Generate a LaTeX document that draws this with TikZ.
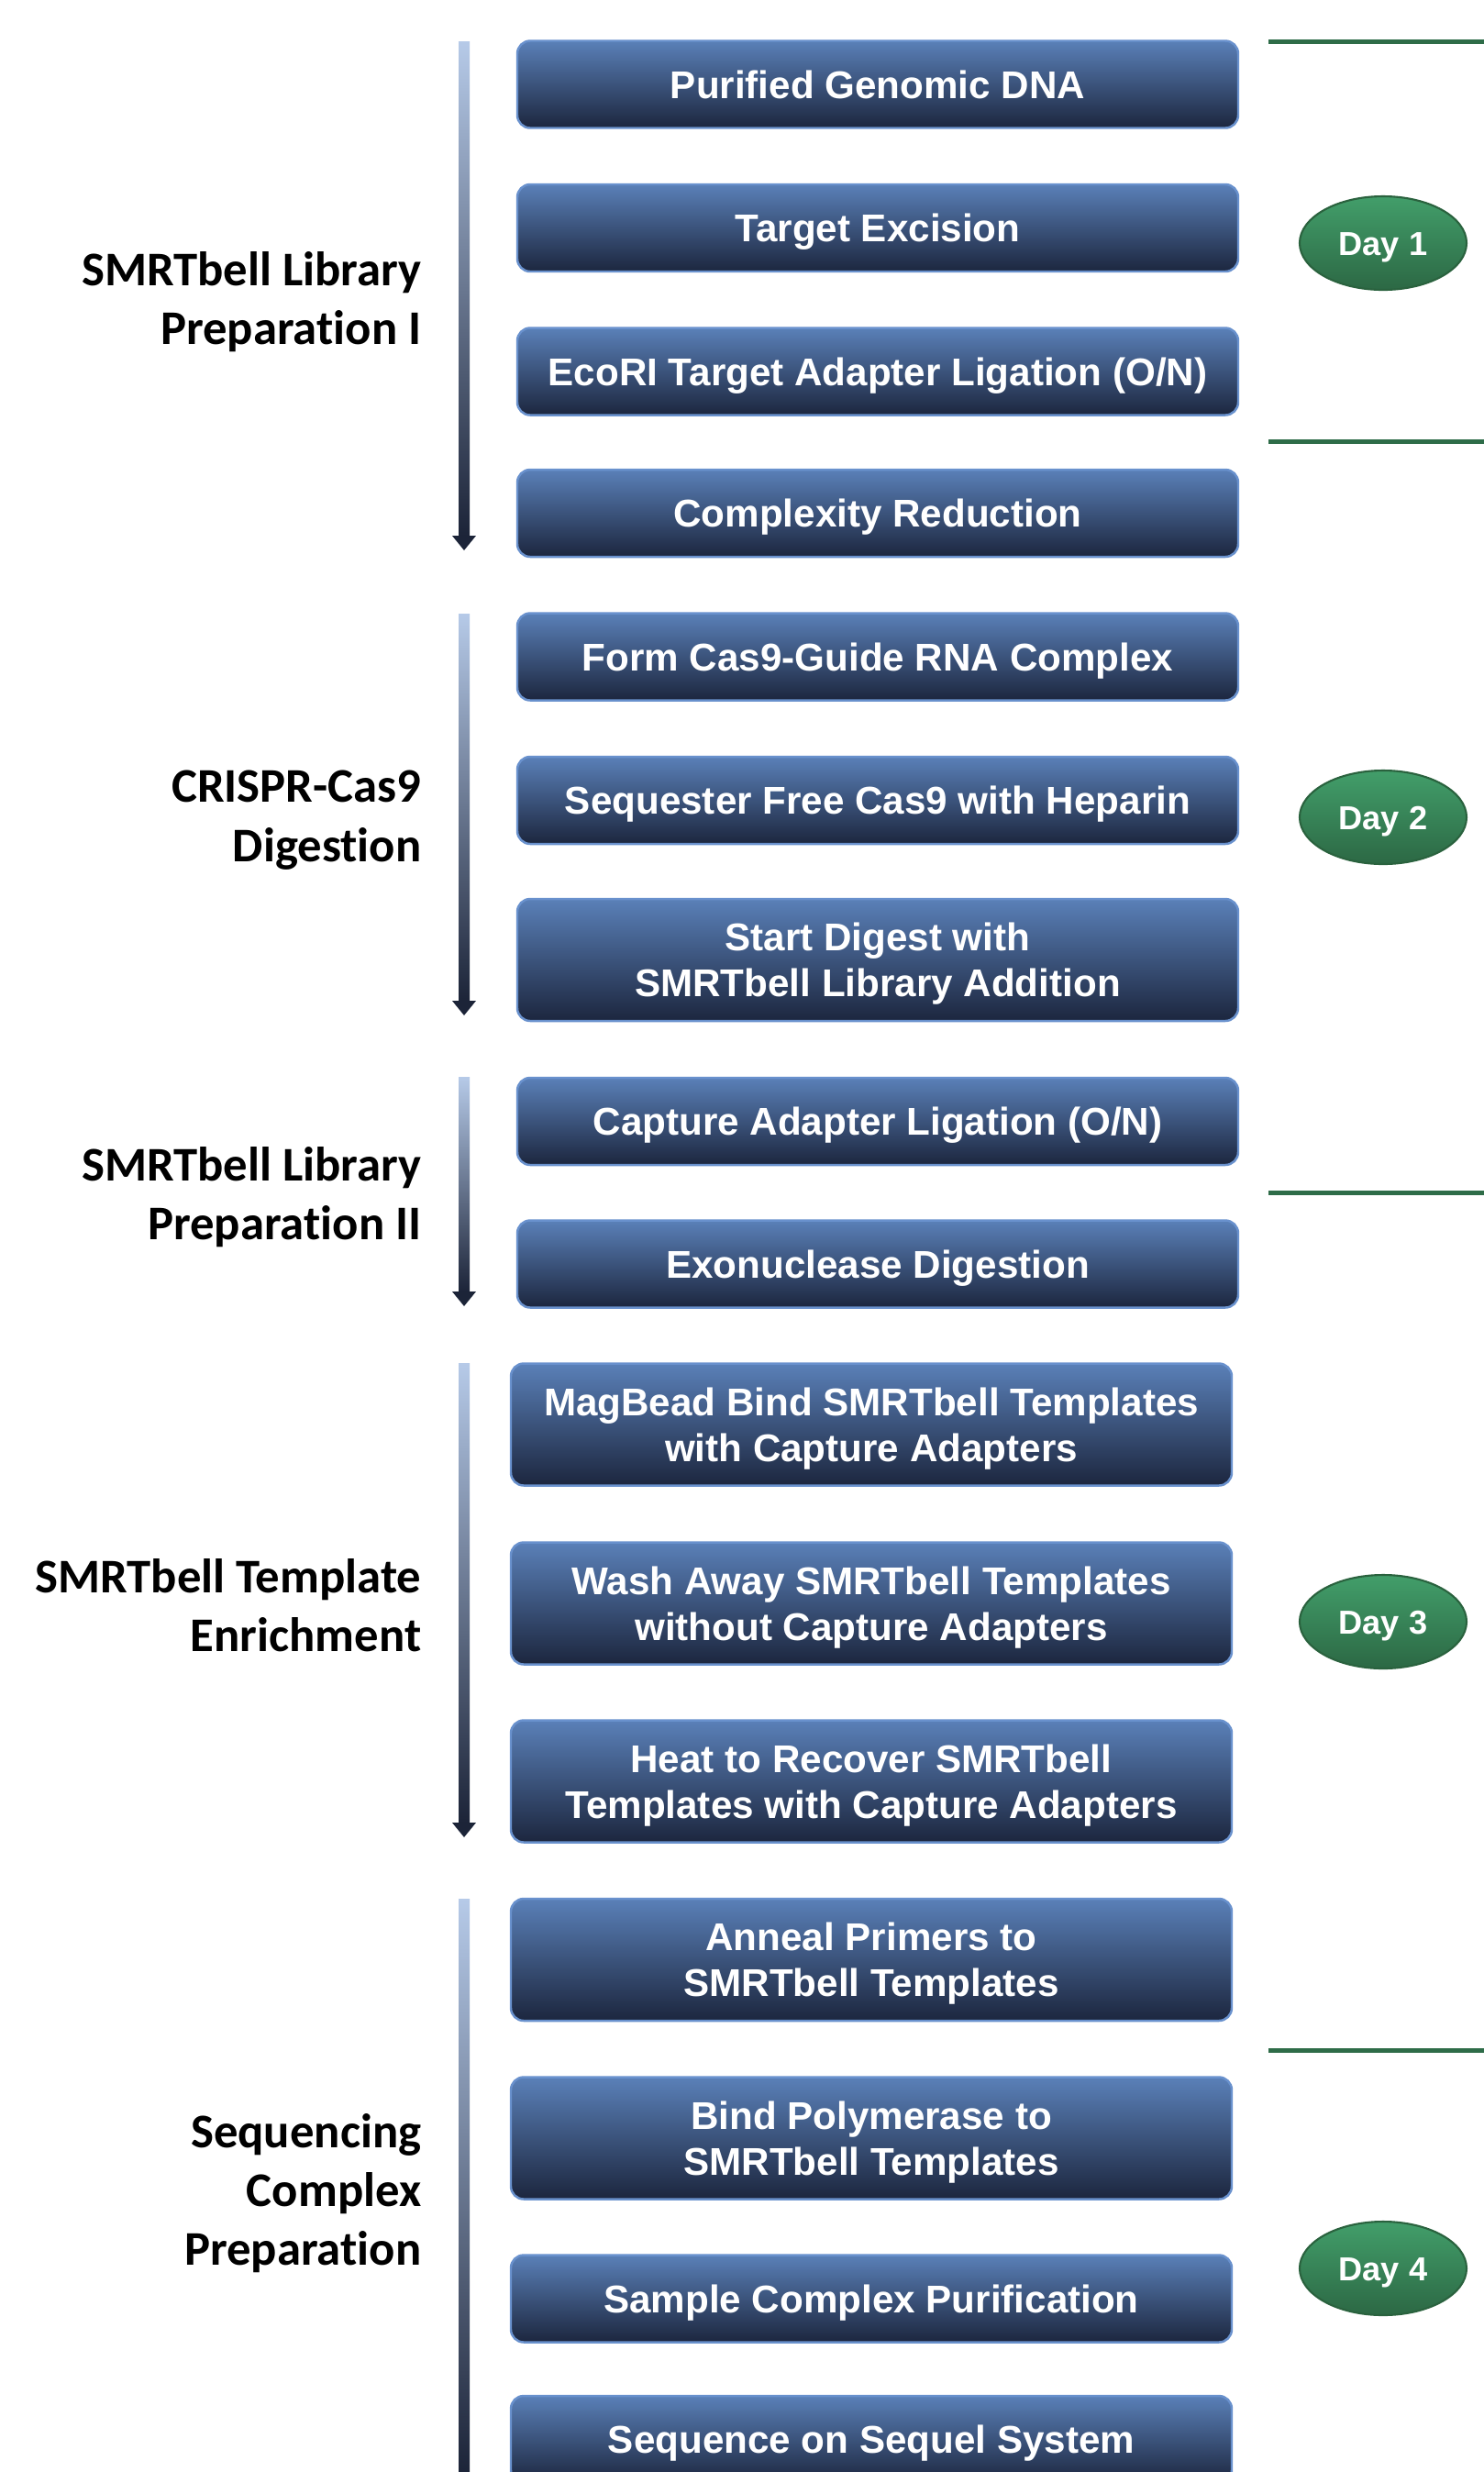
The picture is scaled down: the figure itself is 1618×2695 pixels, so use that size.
\documentclass[tikz,border=0pt]{standalone}
\usepackage{fontspec}
\setmainfont{Liberation Sans}
\newfontfamily\phasefont[Ligatures=NoCommon]{Carlito}
\usepackage{tikz}
\usetikzlibrary{positioning,shapes.geometric,arrows.meta}
\definecolor{boxtop}{RGB}{90,128,184}
\definecolor{boxbot}{RGB}{28,38,62}
\definecolor{boxedge}{RGB}{105,145,205}
\definecolor{daytop}{RGB}{66,158,106}
\definecolor{daybot}{RGB}{44,104,68}
\definecolor{dayedge}{RGB}{42,98,62}
\definecolor{dayline}{RGB}{46,108,72}
\definecolor{bartop}{RGB}{182,202,232}
\definecolor{barbot}{RGB}{28,36,56}

\begin{document}
\begin{tikzpicture}[x=0.1mm, y=-0.1mm,
    stepbox/.style={draw=boxedge, line width=0.7pt, rounded corners=1.4mm,
        top color=boxtop, bottom color=boxbot, text=white, align=center,
        font=\fontsize{12}{14.2}\selectfont\bfseries,
        text height=8.6pt, text depth=0pt,
        minimum width=78.6mm, minimum height=9.5mm, inner sep=0pt},
    twoline/.style={minimum height=13.3mm, text height=22.8pt},
    dayoval/.style={ellipse, draw=dayedge, line width=0.6pt,
        top color=daytop, bottom color=daybot, text=white,
        font=\fontsize{10.3}{12}\selectfont\bfseries,
        text height=7.4pt, text depth=0pt,
        minimum width=18.2mm, minimum height=10.2mm, inner sep=0pt},
    phase/.style={anchor=east, align=right, inner sep=0pt,
        font=\phasefont\fontsize{15}{18.3}\selectfont\bfseries},
    dayrule/.style={dayline, line width=0.5mm}]
    \clip (0,0) rectangle (1618,2695); % page = reference size

    \path
    (506,45)   coordinate (t1)  (506,600)  coordinate (h1)
    (506,669)  coordinate (t2)  (506,1107) coordinate (h2)
    (506,1174) coordinate (t3)  (506,1424) coordinate (h3)
    (506,1486) coordinate (t4)  (506,2003) coordinate (h4)
    (506,2070) coordinate (t5)  (506,2712) coordinate (h5)
    (1383,45)   coordinate (r1a)  (1618,45)   coordinate (r1b)
    (1383,481)  coordinate (r2a)  (1618,481)  coordinate (r2b)
    (1383,1300) coordinate (r3a)  (1618,1300) coordinate (r3b)
    (1383,2235) coordinate (r4a)  (1618,2235) coordinate (r4b)
    ;

    % time bars
    \shade[top color=bartop, bottom color=barbot] ([xshift=-0.6mm]t1) rectangle ([xshift=0.6mm,yshift=1.6mm]h1);
    \fill[barbot] ([xshift=-1.3mm,yshift=1.6mm]h1) -- ([xshift=1.3mm,yshift=1.6mm]h1) -- (h1) -- cycle;
    \shade[top color=bartop, bottom color=barbot] ([xshift=-0.6mm]t2) rectangle ([xshift=0.6mm,yshift=1.6mm]h2);
    \fill[barbot] ([xshift=-1.3mm,yshift=1.6mm]h2) -- ([xshift=1.3mm,yshift=1.6mm]h2) -- (h2) -- cycle;
    \shade[top color=bartop, bottom color=barbot] ([xshift=-0.6mm]t3) rectangle ([xshift=0.6mm,yshift=1.6mm]h3);
    \fill[barbot] ([xshift=-1.3mm,yshift=1.6mm]h3) -- ([xshift=1.3mm,yshift=1.6mm]h3) -- (h3) -- cycle;
    \shade[top color=bartop, bottom color=barbot] ([xshift=-0.6mm]t4) rectangle ([xshift=0.6mm,yshift=1.6mm]h4);
    \fill[barbot] ([xshift=-1.3mm,yshift=1.6mm]h4) -- ([xshift=1.3mm,yshift=1.6mm]h4) -- (h4) -- cycle;
    \shade[top color=bartop, bottom color=barbot] ([xshift=-0.6mm]t5) rectangle ([xshift=0.6mm,yshift=1.6mm]h5);
    \fill[barbot] ([xshift=-1.3mm,yshift=1.6mm]h5) -- ([xshift=1.3mm,yshift=1.6mm]h5) -- (h5) -- cycle;

    \node[phase] (prep1) at (460,329) {SMRTbell Library\\Preparation I};
    \node[phase] (crispr) at (460,894) {CRISPR-Cas9\\Digestion};
    \node[phase] (prep2) at (460,1305) {SMRTbell Library\\Preparation II};
    \node[phase] (enrich) at (460,1750) {SMRTbell Template\\Enrichment};
    \node[phase] (seqprep) at (460,2391) {Sequencing\\Complex\\Preparation};

    \node[stepbox] (dna) at (957,92) {Purified Genomic DNA};
    \node[stepbox] (excise) at (957,248.5) {Target Excision};
    \node[stepbox] (ecori) at (957,405) {EcoRI Target Adapter Ligation (O/N)};
    \node[stepbox] (reduce) at (957,559.5) {Complexity Reduction};
    \node[stepbox] (guide) at (957,716) {Form Cas9-Guide RNA Complex};
    \node[stepbox] (heparin) at (957,872.5) {Sequester Free Cas9 with Heparin};
    \node[stepbox, twoline] (digest) at (957,1046.5) {Start Digest with\\SMRTbell Library Addition};
    \node[stepbox] (capture) at (957,1222.5) {Capture Adapter Ligation (O/N)};
    \node[stepbox] (exo) at (957,1378) {Exonuclease Digestion};
    \node[stepbox, twoline] (magbead) at (950,1553) {MagBead Bind SMRTbell Templates\\with Capture Adapters};
    \node[stepbox, twoline] (wash) at (950,1748) {Wash Away SMRTbell Templates\\without Capture Adapters};
    \node[stepbox, twoline] (heat) at (950,1942) {Heat to Recover SMRTbell\\Templates with Capture Adapters};
    \node[stepbox, twoline] (anneal) at (950,2136.5) {Anneal Primers to\\SMRTbell Templates};
    \node[stepbox, twoline] (polym) at (950,2331) {Bind Polymerase to\\SMRTbell Templates};
    \node[stepbox] (purify) at (950,2506) {Sample Complex Purification};
    \node[stepbox] (sequel) at (950,2659.5) {Sequence on Sequel System};

    \draw[dayrule] (r1a) -- (r1b);
    \draw[dayrule] (r2a) -- (r2b);
    \draw[dayrule] (r3a) -- (r3b);
    \draw[dayrule] (r4a) -- (r4b);

    \node[dayoval] (day1) at (1508,265) {Day 1};
    \node[dayoval] (day2) at (1508,891) {Day 2};
    \node[dayoval] (day3) at (1508,1768) {Day 3};
    \node[dayoval] (day4) at (1508,2473) {Day 4};
\end{tikzpicture}
\end{document}
